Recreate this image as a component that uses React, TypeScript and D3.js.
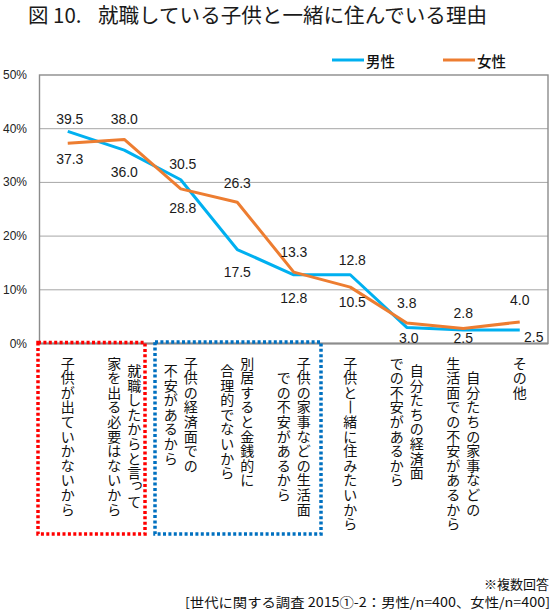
import React from "react";
import * as d3 from "d3";

const categoryLines: string[][] = [
  ["子供が出ていかないから"],
  ["就職したからと言って", "家を出る必要はないから"],
  ["子供の経済面での", "不安があるから"],
  ["別居すると金銭的に", "合理的でないから"],
  ["子供の家事などの生活面", "での不安があるから"],
  ["子供と一緒に住みたいから"],
  ["自分たちの経済面", "での不安があるから"],
  ["自分たちの家事などの", "生活面での不安があるから"],
  ["その他"],
];
const maleValues = [39.5, 36.0, 30.5, 17.5, 12.8, 12.8, 3.0, 2.5, 2.5];
const femaleValues = [37.3, 38.0, 28.8, 26.3, 13.3, 10.5, 3.8, 2.8, 4.0];
const yTicks = [0, 10, 20, 30, 40, 50];
const seriesNames = ["男性", "女性"];
const titleNum = "図 10.";
const titleText = "就職している子供と一緒に住んでいる理由";
const note1 = "※複数回答";
const note2 = "[世代に関する調査 2015①-2：男性/n=400、女性/n=400]";

// layout: label offsets (px) from point to label center
const maleLabelDy = [-12, 22, -16, 22.5, 23.5, -15, 11, 8, 6.6];
const maleLabelDx = [2, 0, 2, 0, 0, 2, 2, 0, 14];
const femaleLabelDy = [16, -20, 19, -19.6, -20, 15, -20.4, -15, -22];
const femaleLabelDx = [2, 0, 2, 0, 0, 2, 0, 0, 0];

const BLUE = "#00b0f0";
const ORANGE = "#ed7d31";
const JP = "'Noto Sans CJK JP', 'Noto Sans', sans-serif";
const LAT = "'Liberation Sans', Arial, sans-serif";

export default function App() {
  const W = 560, H = 613;
  const left = 39.5, right = 548, top = 75, bottom = 343.5;
  const idx = categoryLines.map((_, i) => String(i));
  const x = d3.scaleBand().domain(idx).range([left, right]);
  const cx = (i: number) => (x(String(i)) as number) + x.bandwidth() / 2;
  const y = d3.scaleLinear().domain([0, 50]).range([bottom, top]);
  const line = d3
    .line<number>()
    .x((_, i) => cx(i))
    .y((d) => y(d));

  const fs = 14;
  const pitch = 14.6;
  const colGap = 20;
  const textTop = 356;
  const smallKana = "っゃゅょぁぃぅぇぉ";

  const vertLabels: React.ReactNode[] = [];
  categoryLines.forEach((lines, ci) => {
    const maxLen = d3.max(lines, (l) => Array.from(l).length) as number;
    const n = lines.length;
    lines.forEach((ln, li) => {
      // first line is the rightmost column
      const colX = cx(ci) + ((n - 1) / 2 - li) * colGap;
      const chars = Array.from(ln);
      const start = textTop + ((maxLen - chars.length) / 2) * pitch;
      const xs: number[] = [];
      const ys: number[] = [];
      const rs: number[] = [];
      chars.forEach((ch, k) => {
        const cy = start + k * pitch + pitch / 2;
        if (ch === "一") {
          xs.push(colX - 0.4 * fs);
          ys.push(cy - 0.5 * fs);
          rs.push(90);
        } else if (smallKana.includes(ch)) {
          xs.push(colX - fs / 2 + 0.18 * fs);
          ys.push(cy + 0.38 * fs - 0.28 * fs);
          rs.push(0);
        } else {
          xs.push(colX - fs / 2);
          ys.push(cy + 0.38 * fs);
          rs.push(0);
        }
      });
      vertLabels.push(
        <text
          key={`c${ci}-${li}`}
          x={xs.map((v) => v.toFixed(2)).join(" ")}
          y={ys.map((v) => v.toFixed(2)).join(" ")}
          rotate={rs.some((r) => r !== 0) ? rs.join(" ") : undefined}
          fontFamily={JP}
          fontSize={fs}
          fill="#111"
        >
          {ln}
        </text>
      );
    });
  });

  return (
    <svg
      width={W}
      height={H}
      style={{ position: "absolute", left: 0, top: 0, background: "#fff" }}
    >
      <rect x={0} y={0} width={W} height={H} fill="#fff" />
      {/* title */}
      <text x={28} y={23} fontFamily={JP} fontSize={20.5} fill="#1a1a1a">
        {titleNum}
      </text>
      <text x={98} y={23} fontFamily={JP} fontSize={20.5} fill="#1a1a1a" textLength={389} lengthAdjust="spacingAndGlyphs">
        {titleText}
      </text>

      {/* legend */}
      <line x1={332} x2={364} y1={60} y2={60} stroke={BLUE} strokeWidth={3} />
      <text x={366} y={60} dominantBaseline="central" fontFamily={JP} fontSize={14.5} fontWeight={500} fill="#111">
        {seriesNames[0]}
      </text>
      <line x1={443} x2={475} y1={60} y2={60} stroke={ORANGE} strokeWidth={3} />
      <text x={477} y={60} dominantBaseline="central" fontFamily={JP} fontSize={14.5} fontWeight={500} fill="#111">
        {seriesNames[1]}
      </text>

      {/* grid */}
      {yTicks.map((t) => (
        <g key={t}>
          {t > 0 && t < 50 && (
            <line x1={left} x2={right} y1={y(t)} y2={y(t)} stroke="#a6a6a6" strokeWidth={1} />
          )}
          <text
            x={27}
            y={y(t)}
            textAnchor="end"
            dominantBaseline="central"
            fontFamily={LAT}
            fontSize={12}
            fill="#222"
          >
            {t}%
          </text>
        </g>
      ))}
      <rect x={left} y={top} width={right - left} height={bottom - top} fill="none" stroke="#8c8c8c" strokeWidth={1.4} />
      <line x1={left} x2={right} y1={bottom} y2={bottom} stroke="#8c8c8c" strokeWidth={2} />

      {/* lines */}
      <path d={line(maleValues) as string} fill="none" stroke={BLUE} strokeWidth={3} strokeLinejoin="round" />
      <path d={line(femaleValues) as string} fill="none" stroke={ORANGE} strokeWidth={3} strokeLinejoin="round" />

      {/* data labels */}
      {maleValues.map((v, i) => (
        <text
          key={`m${i}`}
          x={cx(i) + maleLabelDx[i]}
          y={y(v) + maleLabelDy[i]}
          textAnchor="middle"
          dominantBaseline="central"
          fontFamily={LAT}
          fontSize={14}
          fill="#1a1a1a"
        >
          {v.toFixed(1)}
        </text>
      ))}
      {femaleValues.map((v, i) => (
        <text
          key={`f${i}`}
          x={cx(i) + femaleLabelDx[i]}
          y={y(v) + femaleLabelDy[i]}
          textAnchor="middle"
          dominantBaseline="central"
          fontFamily={LAT}
          fontSize={14}
          fill="#1a1a1a"
        >
          {v.toFixed(1)}
        </text>
      ))}

      {/* highlight boxes */}
      <rect x={38} y={342.5} width={107} height={191.5} fill="none" stroke="#ff0000" strokeWidth={3.5} strokeDasharray="3 2.4" />
      <rect x={155} y={342} width={166} height={192} fill="none" stroke="#0070c0" strokeWidth={3.5} strokeDasharray="3 2.4" />

      {/* category labels */}
      {vertLabels}

      {/* notes */}
      <text x={549} y={589} textAnchor="end" fontFamily={JP} fontSize={13} fill="#111">
        {note1}
      </text>
      <text x={550} y={607} textAnchor="end" fontFamily={JP} fontSize={13} fill="#111" textLength={365} lengthAdjust="spacingAndGlyphs">
        {note2}
      </text>
    </svg>
  );
}
